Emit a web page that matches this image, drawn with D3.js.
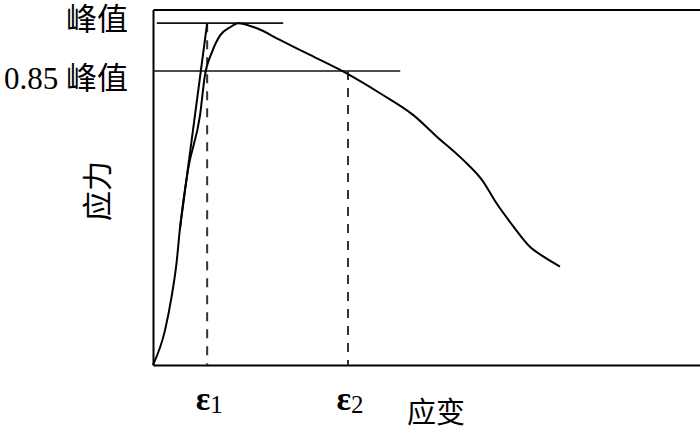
<html>
<style>
    body { margin: 0px; background: #fff; }
    text { font-family: "Liberation Serif", "Noto Sans CJK SC", serif; fill: #000; }
</style>
<body>
<svg id="viz"></svg>
<script src="https://d3js.org/d3.v7.min.js"></script>
<script>
var width = 700;
var height = 429;

// stress-strain curve (strain in arbitrary units, stress relative to peak)
var strain = [0, 0.22, 0.34, 0.43, 0.49, 0.64, 0.86, 0.95, 1.08, 1.23, 1.41, 1.55,
              1.90, 2.32, 2.87, 3.54, 4.15, 4.76, 5.19, 5.67, 6.02, 6.28, 6.59, 6.89, 7.14, 7.44];
var stress = [0, 0.102, 0.200, 0.298, 0.395, 0.571, 0.731, 0.848, 0.916, 0.965, 0.988, 1.0,
              0.985, 0.951, 0.907, 0.853, 0.795, 0.731, 0.668, 0.600, 0.540, 0.473, 0.405, 0.346, 0.317, 0.288];

// straight (initial) line up to the peak level
var tangentStrain = [0.49, 0.99];
var tangentStress = [0.395, 1.0];

// reference levels and strains
var levelValues = [1.0, 0.86];
var levelLabels = ["峰值", "0.85 峰值"];
var levelEnds = [2.38, 4.52];
var levelStarts = [0.07, 0];
var strainMarks = [0.99, 3.565];
var strainSubs = ["1", "2"];
var strainTops = [1.0, 0.86];

var xMax = 10;
var yMax = 1.04;

var margin = {left: 153, right: 0, top: 9.5, bottom: 64};

var svg = d3.select("#viz").attr("width", width).attr("height", height);

var x = d3.scaleLinear().domain([0, xMax]).range([margin.left, width - margin.right]);
var y = d3.scaleLinear().domain([0, yMax]).range([height - margin.bottom, margin.top]);

// frame: bottom, top and left lines
svg.append("g")
    .attr("transform", "translate(0," + y(0) + ")")
    .call(d3.axisBottom(x).tickValues([]).tickSizeOuter(0))
    .select(".domain").attr("stroke-width", 2);

svg.append("g")
    .attr("transform", "translate(0," + y(yMax) + ")")
    .call(d3.axisTop(x).tickValues([]).tickSizeOuter(0))
    .select(".domain").attr("stroke-width", 2);

var yAxis = svg.append("g")
    .attr("transform", "translate(" + x(0) + ",0)")
    .call(d3.axisLeft(y).tickValues(levelValues)
        .tickFormat(function(d, i) { return levelLabels[i]; })
        .tickSize(0).tickPadding(25).tickSizeOuter(0));
yAxis.select(".domain").attr("stroke-width", 2);
var yShift = [-4, 8];
yAxis.selectAll(".tick text")
    .attr("font-size", 31)
    .attr("font-family", "Liberation Serif, Noto Sans CJK SC")
    .attr("fill", "#000")
    .attr("y", function(d, i) { return yShift[i]; });

// horizontal reference lines
svg.append("g").selectAll("line")
    .data(levelValues)
    .enter()
    .append("line")
    .attr("x1", function(d, i) { return x(levelStarts[i]); })
    .attr("x2", function(d, i) { return x(levelEnds[i]); })
    .attr("y1", function(d) { return y(d); })
    .attr("y2", function(d) { return y(d); })
    .attr("stroke", "#111")
    .attr("stroke-width", 1.6);

// dashed verticals
svg.append("g").selectAll("line")
    .data(strainMarks)
    .enter()
    .append("line")
    .attr("x1", function(d) { return x(d); })
    .attr("x2", function(d) { return x(d); })
    .attr("y1", function(d, i) { return y(strainTops[i]); })
    .attr("y2", y(0))
    .attr("stroke", "#333")
    .attr("stroke-width", 2)
    .attr("stroke-dasharray", "9,8");

// strain labels with subscripts
var eps = svg.append("g").selectAll("text")
    .data(strainMarks)
    .enter()
    .append("text")
    .attr("x", function(d) { return x(d) + 2; })
    .attr("y", 410)
    .attr("text-anchor", "middle")
    .attr("font-size", 34)
    .attr("font-family", "Liberation Serif");
eps.append("tspan").attr("font-weight", "bold").text("ε");
eps.append("tspan")
    .attr("font-size", 25)
    .attr("dy", 3)
    .text(function(d, i) { return strainSubs[i]; });

// straight line
var line = d3.line()
    .x(function(d) { return x(d[0]); })
    .y(function(d) { return y(d[1]); });

svg.append("path")
    .datum(d3.zip(tangentStrain, tangentStress))
    .attr("d", line)
    .attr("fill", "none")
    .attr("stroke", "#000")
    .attr("stroke-width", 2);

// the curve
var curve = d3.line()
    .x(function(d) { return x(d[0]); })
    .y(function(d) { return y(d[1]); })
    .curve(d3.curveMonotoneX);

svg.append("path")
    .datum(d3.zip(strain, stress))
    .attr("d", curve)
    .attr("fill", "none")
    .attr("stroke", "#000")
    .attr("stroke-width", 2);

// axis titles
svg.append("text")
    .attr("x", 407)
    .attr("y", 423)
    .attr("font-size", 29)
    .attr("font-family", "Noto Sans CJK SC")
    .text("应变");

svg.append("text")
    .attr("transform", "translate(108,191) rotate(-90)")
    .attr("text-anchor", "middle")
    .attr("font-size", 30)
    .attr("font-family", "Noto Sans CJK SC")
    .text("应力");
</script>
</body>
</html>
